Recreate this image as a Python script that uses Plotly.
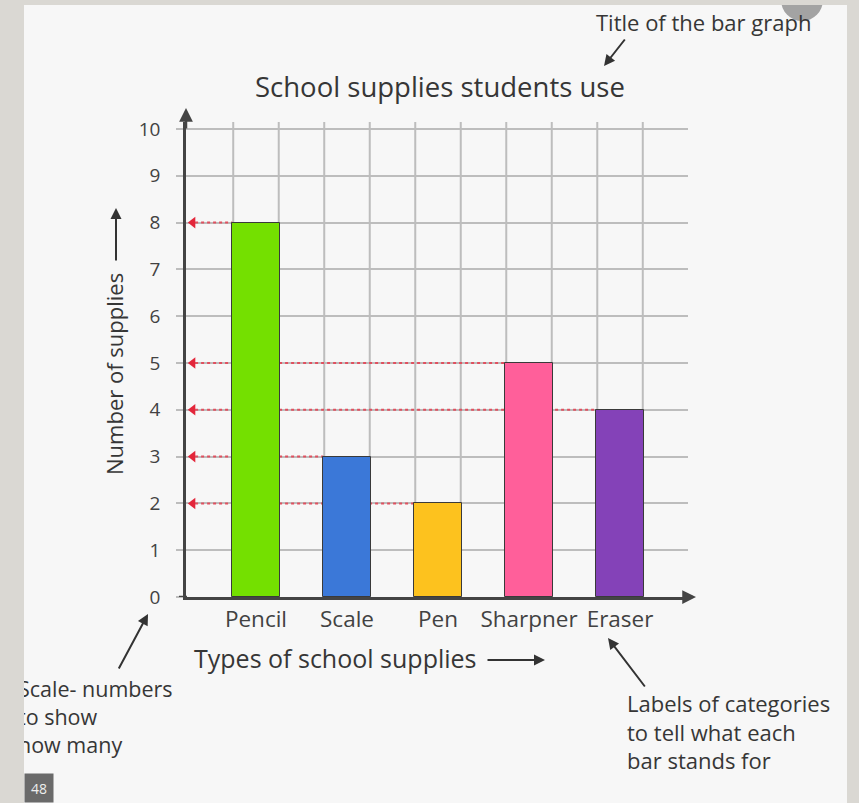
import plotly.graph_objects as go

categories = ["Pencil", "Scale", "Pen", "Sharpner", "Eraser"]
values = [8, 3, 2, 5, 4]
colors = ["#74E000", "#3B78D8", "#FDC21E", "#FF5F9A", "#8442B8"]
y_ticks = list(range(0, 11))

W, H = 859, 803
FONT = "Open Sans"
TXT = "#363636"

def px(x):
    return x / W

def py(y):
    return 1 - y / H

positions = list(range(len(categories)))
x_range = [-0.769, 4.747]
axis_x = x_range[0]
half = 0.26

fig = go.Figure()
fig.add_trace(go.Bar(
    x=positions, y=values, width=2 * half,
    marker=dict(color=colors, line=dict(color="#3a3a3a", width=1)),
    hoverinfo="x+y", showlegend=False,
))
# red arrow tips on the y axis
fig.add_trace(go.Scatter(
    x=[axis_x + 0.075] * len(values), y=values, mode="markers",
    marker=dict(symbol="triangle-left", size=10, color="#E3263A"),
    showlegend=False, hoverinfo="skip", cliponaxis=False,
))

shapes = []
# background panel
shapes.append(dict(type="rect", xref="paper", yref="paper", x0=px(24), x1=px(847), y0=0, y1=py(5),
                   fillcolor="#F7F7F7", line=dict(width=0), layer="below"))
shapes.append(dict(type="circle", xref="paper", yref="paper", x0=px(781), x1=px(823), y0=py(21), y1=py(-21),
                   fillcolor="#A3A3A3", line=dict(width=0), layer="below"))
shapes.append(dict(type="rect", xref="paper", yref="paper", x0=0, x1=1, y0=py(5), y1=1,
                   fillcolor="#DAD8D3", line=dict(width=0), layer="below"))
# x axis line extends slightly left of the y axis
shapes.append(dict(type="line", xref="paper", yref="y", x0=px(179), x1=px(187), y0=0, y1=0,
                   line=dict(color="#444444", width=2.5), layer="above"))
# vertical grid lines at bar edges
for p in positions:
    for e in (p - half + 0.01, p + half - 0.01):
        shapes.append(dict(type="line", xref="x", yref="y", x0=e, x1=e, y0=0, y1=10.15,
                           line=dict(color="#BDBDBD", width=2), layer="below"))
# red dotted reference lines
for p, v in zip(positions, values):
    shapes.append(dict(type="line", xref="x", yref="y", x0=axis_x + 0.1, x1=p - half, y0=v, y1=v,
                       line=dict(color="#E0505F", width=2, dash="dot"), layer="between"))

annotations = []

def arrow(tip, start, color="#333333", width=2):
    annotations.append(dict(xref="paper", yref="paper", x=px(tip[0]), y=py(tip[1]),
                            axref="pixel", ayref="pixel", ax=start[0] - tip[0], ay=start[1] - tip[1],
                            text="", showarrow=True, arrowhead=2, arrowsize=1.1,
                            arrowwidth=width, arrowcolor=color))

def text(t, x, y, size, xanchor="left", angle=0, yanchor="middle"):
    annotations.append(dict(xref="paper", yref="paper", x=px(x), y=py(y), text=t, showarrow=False,
                            xanchor=xanchor, yanchor=yanchor, textangle=angle, align="left",
                            font=dict(family=FONT, size=size, color=TXT)))

text("Title of the bar graph", 594, 22, 22)
arrow((604, 66), (626, 38))
text("School supplies students use", 440, 87, 27.5, xanchor="center")
text("Number of supplies", 114, 374, 22, xanchor="center", angle=-90)
arrow((116, 208), (116, 262))
text("Types of school supplies", 192, 658, 25)
arrow((545, 660), (486, 660))
arrow((186, 108), (186, 130), color="#444444", width=2.5)
arrow((696, 597), (684, 597), color="#444444", width=2.5)
arrow((148, 614), (118, 670))
arrow((608, 638), (646, 688))
text("<br>".join(["Scale- numbers", "to show", "how many"]), 16, 716, 21.5)
text("<br>".join(["Labels of categories", "to tell what each", "bar stands for"]), 625, 731, 22)
# left strip cover (clips the left text)
annotations.append(dict(xref="paper", yref="paper", x=0, y=1, xanchor="left", yanchor="top",
                        text=" ", showarrow=False, width=24, height=H, bgcolor="#DAD8D3",
                        borderpad=0, borderwidth=0))
annotations.append(dict(xref="paper", yref="paper", x=px(24), y=0, xanchor="left", yanchor="bottom",
                        text="48", showarrow=False, width=28, height=28, bgcolor="#6A6A6A",
                        font=dict(family=FONT, size=14, color="#EEEEEE"), borderpad=0))

fig.update_layout(
    width=W, height=H, margin=dict(l=0, r=0, t=0, b=0, autoexpand=False),
    paper_bgcolor="#DAD8D3", plot_bgcolor="rgba(0,0,0,0)",
    shapes=shapes, annotations=annotations, bargap=0,
    xaxis=dict(domain=[px(186), px(688)], range=x_range, tickmode="array", automargin=False,
               tickvals=positions, ticktext=categories, showgrid=False, zeroline=False,
               showline=True, linecolor="#444444", linewidth=2.5, ticks="",
               ticklabelstandoff=0, tickfont=dict(family=FONT, size=22.5, color="#424242"),
               fixedrange=True),
    yaxis=dict(domain=[py(597), py(122)], range=[0, 10.15], tickmode="array", automargin=False,
               tickvals=y_ticks, showgrid=True, gridcolor="#BDBDBD", gridwidth=2,
               zeroline=False, showline=True, linecolor="#444444", linewidth=2.5,
               ticks="outside", ticklen=7, tickcolor="#BDBDBD", tickwidth=2,
               ticklabelstandoff=12, tickfont=dict(family=FONT, size=19, color="#424242"),
               fixedrange=True),
)

post = (
    "document.body.style.margin='0';"
    "document.body.style.overflow='hidden';"
)
fig.write_html("out.html", config={"displayModeBar": False}, post_script=post)
